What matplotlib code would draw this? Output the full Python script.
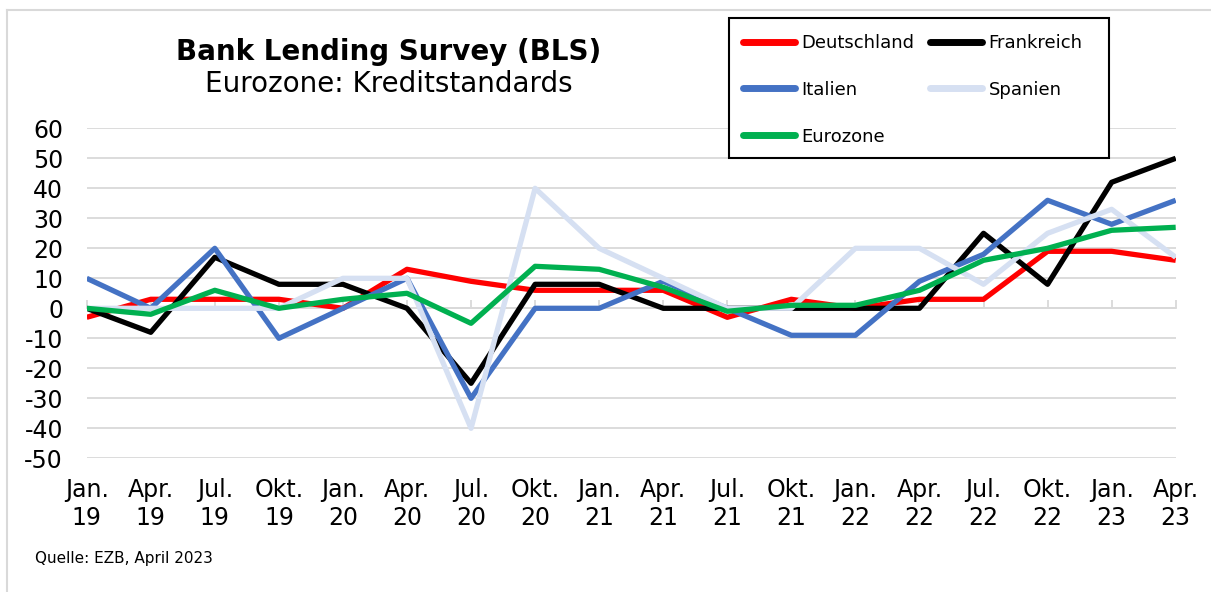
import matplotlib
matplotlib.use("Agg")
import matplotlib.pyplot as plt
from matplotlib.lines import Line2D
from matplotlib.patches import Rectangle

plt.rcParams['font.family'] = ['DejaVu Sans']
plt.rcParams['axes.unicode_minus'] = False

categories = ["Jan.\n19", "Apr.\n19", "Jul.\n19", "Okt.\n19", "Jan.\n20", "Apr.\n20",
              "Jul.\n20", "Okt.\n20", "Jan.\n21", "Apr.\n21", "Jul.\n21", "Okt.\n21",
              "Jan.\n22", "Apr.\n22", "Jul.\n22", "Okt.\n22", "Jan.\n23", "Apr.\n23"]

deutschland = [-3, 3, 3, 3, 0, 13, 9, 6, 6, 6, -3, 3, 0, 3, 3, 19, 19, 16]
frankreich = [0, -8, 17, 8, 8, 0, -25, 8, 8, 0, 0, 0, 0, 0, 25, 8, 42, 50]
italien = [10, 0, 20, -10, 0, 10, -30, 0, 0, 9, 0, -9, -9, 9, 18, 36, 28, 36]
spanien = [0, 0, 0, 0, 10, 10, -40, 40, 20, 10, 0, 0, 20, 20, 8, 25, 33, 17]
eurozone = [0, -2, 6, 0, 3, 5, -5, 14, 13, 7, -1, 1, 1, 6, 16, 20, 26, 27]

series = [
    ("Deutschland", deutschland, "#FF0000"),
    ("Frankreich", frankreich, "#000000"),
    ("Italien", italien, "#4472C4"),
    ("Spanien", spanien, "#D6E0F2"),
    ("Eurozone", eurozone, "#00B050"),
]

W, H = 1211, 592
fig = plt.figure(figsize=(W / 100, H / 100), dpi=100)

# outer chart border (left and top)
fig.add_artist(Line2D([6.5 / W, 6.5 / W], [0, 1 - 9.5 / H], transform=fig.transFigure,
                      color="#d9d9d9", lw=1.5))
fig.add_artist(Line2D([6.5 / W, 1], [1 - 9.5 / H, 1 - 9.5 / H], transform=fig.transFigure,
                      color="#d9d9d9", lw=1.5))

left, right = 86.7 / W, 1175.7 / W
top, bottom = 1 - 128.3 / H, 1 - 458.3 / H
ax = fig.add_axes([left, bottom, right - left, top - bottom])

x = list(range(len(categories)))
handles = {}
for name, vals, col in series:
    ln, = ax.plot(x, vals, color=col, lw=3.8, solid_joinstyle='round',
                  solid_capstyle='butt', label=name, zorder=3)
    handles[name] = ln

ax.set_xlim(0, len(categories) - 1)
ax.set_ylim(-50, 60)
ax.set_yticks(range(-50, 61, 10))
ax.yaxis.grid(True, color="#d9d9d9", lw=1.3)
ax.set_axisbelow(True)
for s in ["left", "right", "top"]:
    ax.spines[s].set_visible(False)
ax.spines["bottom"].set_position(("data", 0))
ax.spines["bottom"].set_color("#d9d9d9")
ax.spines["bottom"].set_linewidth(1.3)
ax.set_xticks(x)
ax.set_xticklabels([])
ax.tick_params(axis="x", direction="in", length=6, width=1.3, color="#d9d9d9")
ax.tick_params(axis="y", length=0, pad=17, labelsize=17)

sec = ax.secondary_xaxis("bottom")
sec.set_xticks(x)
sec.set_xticklabels(categories, fontsize=17, linespacing=1.2)
sec.tick_params(length=0, pad=14)
sec.spines["bottom"].set_visible(False)

# titles
fig.text(389 / W, 1 - 52 / H, "Bank Lending Survey (BLS)", ha="center", va="center",
         fontsize=20, fontweight="bold")
fig.text(389 / W, 1 - 84 / H, "Eurozone: Kreditstandards", ha="center", va="center",
         fontsize=20)

# legend
fig.add_artist(Rectangle((729 / W, 1 - 158 / H), (1109 - 729) / W, (158 - 18) / H,
                         transform=fig.transFigure, fill=True, facecolor="white",
                         edgecolor="black", lw=1.5, zorder=5))
order = ["Deutschland", "Italien", "Eurozone", "Frankreich", "Spanien"]
leg = fig.legend([handles[n] for n in order], order, ncol=2, frameon=False,
                 loc="upper left", bbox_to_anchor=(723 / W, 1 - 14 / H),
                 fontsize=13, handlelength=2.9, handletextpad=0.35,
                 columnspacing=0.85, labelspacing=1.6, borderpad=0.6)
leg.set_zorder(6)
for lh in leg.get_lines():
    lh.set_linewidth(5)
    lh.set_solid_capstyle("round")

fig.text(35 / W, 1 - 558 / H, "Quelle: EZB, April 2023", ha="left", va="center",
         fontsize=11)

fig.savefig("out.png", dpi=100)
